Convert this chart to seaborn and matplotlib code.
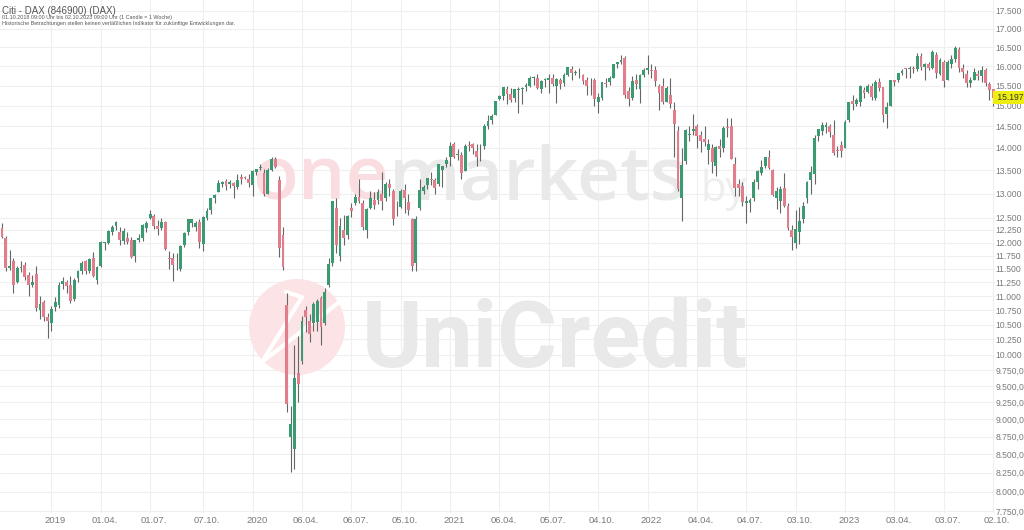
import numpy as np
import pandas as pd
import seaborn as sns
import matplotlib.pyplot as plt
import matplotlib.transforms as mtransforms
from matplotlib.patches import Circle
from matplotlib.ticker import NullLocator

# DAX weekly candles, 01.10.2018 - 02.10.2023 (1 candle = 1 week)
opens = [
    12280, 12100, 11520, 11650, 11250, 11520, 11580, 11380, 11200, 11400, 10750, 10900, 10640,
    10520, 10800, 10850, 11220, 11260, 11200, 10950, 11320, 11460, 11640, 11450, 11700, 11300,
    11560, 11990, 12000, 12200, 12320, 12200, 12040, 12100, 12050, 11740, 12050, 12100, 12290,
    12500, 12540, 12330, 12290, 12420, 11700, 11700, 11600, 11500, 11960, 12200, 12400, 12300,
    12420, 11980, 12500, 12650, 12910, 13040, 13200, 13260, 13200, 13230, 13130, 13350, 13340,
    13300, 13180, 13470, 13550, 13450, 13000, 13510, 13760, 13280, 12150, 10850, 8740, 8580,
    9700, 9900, 10760, 10560, 10520, 10550, 10960, 10530, 11200, 11600, 12700, 11750, 12250,
    12150, 12700, 12800, 12930, 12800, 12250, 12700, 12870, 12860, 13000, 12900, 13200, 13050,
    12700, 12720, 13080, 12820, 12480, 11600, 12700, 13050, 13180, 13300, 13290, 13200, 13500,
    13640, 13800, 14100, 13850, 13830, 13490, 14070, 14080, 13940, 13900, 14050, 14500, 14660,
    14770, 15170, 15230, 15400, 15290, 15200, 15380, 15420, 15450, 15500, 15690, 15700, 15400,
    15640, 15650, 15700, 15500, 15650, 15560, 15760, 15930, 15810, 15800, 15780, 15650, 15550,
    15650, 15080, 15200, 15560, 15600, 15700, 16050, 16100, 16200, 15350, 15200, 15650, 15400,
    15760, 15900, 15900, 15900, 15500, 15500, 15100, 15250, 14900, 14400, 12900, 13700, 14300,
    14400, 14500, 14300, 14200, 13950, 14000, 13600, 14050, 14000, 14480, 14500, 13650, 13200,
    13150, 12800, 12800, 12900, 13250, 13450, 13600, 13800, 13500, 12900, 12850, 13120, 12730,
    12250, 11990, 12210, 12480, 12910, 13290, 13430, 14280, 14400, 14480, 14510, 14310, 13950,
    14070, 13990, 14650, 15110, 15050, 15090, 15390, 15340, 15480, 15200, 15600, 15450, 14800,
    15000, 15630, 15650, 15810, 15950, 15920, 15960, 15930, 16250, 15980, 16050, 15950, 16300,
    15800, 16100, 15650, 16050, 16180, 16450, 15950, 15800, 15560, 15650, 15800, 15750, 15900,
    15540, 15400,
]
highs = [
    12390, 12130, 11850, 11700, 11560, 11650, 11620, 11440, 11380, 11560, 11010, 10930, 10700,
    10830, 10990, 11260, 11350, 11290, 11370, 11320, 11470, 11640, 11660, 11700, 11820, 11550,
    12040, 12010, 12250, 12350, 12440, 12300, 12290, 12200, 12120, 12060, 12170, 12380, 12440,
    12660, 12580, 12450, 12500, 12440, 11830, 11800, 11800, 11950, 12200, 12480, 12480, 12440,
    12470, 12540, 12700, 12910, 12990, 13290, 13260, 13300, 13280, 13250, 13430, 13420, 13380,
    13430, 13500, 13530, 13640, 13530, 13550, 13795, 13795, 13380, 12300, 11060, 9200, 10150,
    10300, 10650, 10820, 10680, 10900, 10950, 11000, 11150, 11700, 12850, 12900, 12500, 12560,
    12550, 12810, 13000, 13310, 12870, 12700, 13050, 13030, 13100, 13460, 13250, 13300, 13100,
    12850, 13100, 13200, 12980, 12500, 12530, 13300, 13180, 13340, 13460, 13340, 13640, 13600,
    13800, 14140, 14130, 13970, 13900, 14080, 14170, 14120, 14080, 14100, 14550, 14770, 14800,
    15120, 15270, 15470, 15500, 15430, 15420, 15470, 15470, 15570, 15730, 15730, 15800, 15650,
    15690, 15800, 15800, 15700, 15700, 15810, 15980, 15990, 15900, 15950, 15800, 15720, 15700,
    15700, 15300, 15600, 15700, 15730, 16060, 16100, 16290, 16250, 15450, 15750, 15800, 15800,
    15950, 16285, 16050, 16000, 15550, 15700, 15500, 15700, 15100, 14500, 14000, 14450, 14500,
    14800, 14550, 14400, 14520, 14200, 14100, 14050, 14200, 14500, 14700, 14700, 13800, 13300,
    13250, 12950, 12900, 13300, 13510, 13740, 13800, 13950, 13520, 13130, 13150, 13450, 12800,
    12350, 12650, 12710, 12820, 13270, 13600, 14300, 14450, 14600, 14600, 14550, 14650, 14050,
    14150, 14650, 15100, 15270, 15180, 15520, 15450, 15550, 15560, 15650, 15700, 15450, 15100,
    15650, 15650, 15830, 15920, 15960, 16000, 16000, 16330, 16330, 16070, 16100, 16430, 16370,
    16200, 16150, 16170, 16300, 16530, 16500, 16060, 15900, 15720, 15960, 15890, 15990, 15950,
    15600, 15420,
]
lows = [
    12090, 11460, 11470, 11050, 11240, 11440, 11290, 11010, 11170, 10730, 10600, 10560, 10279,
    10400, 10740, 10780, 11120, 11060, 10870, 10920, 11250, 11400, 11400, 11420, 11340, 11220,
    11540, 11850, 11980, 12150, 12250, 11950, 11980, 11970, 11710, 11620, 12020, 12030, 12210,
    12480, 12270, 12150, 12240, 11850, 11500, 11266, 11480, 11450, 11910, 12150, 12300, 12220,
    11900, 11830, 12450, 12580, 12800, 13040, 13140, 13080, 13120, 12900, 13090, 13200, 13300,
    13130, 12950, 13390, 13500, 12950, 12980, 13490, 13550, 11724, 11480, 9100, 8255, 8300,
    9260, 9850, 10380, 10200, 10400, 10400, 10160, 10500, 11170, 11550, 11800, 11650, 11950,
    12070, 12520, 12750, 12800, 12250, 12100, 12680, 12670, 12780, 12650, 12850, 12950, 12350,
    12540, 12700, 12600, 12550, 11450, 11450, 12650, 12990, 13100, 13180, 13000, 13170, 13140,
    13580, 13600, 13770, 13730, 13300, 13480, 13930, 13870, 13600, 13700, 13980, 14450, 14560,
    14770, 15130, 15150, 15050, 15090, 15100, 14820, 15040, 15350, 15450, 15510, 15420, 15300,
    15460, 15300, 15500, 15060, 15400, 15480, 15740, 15630, 15760, 15700, 15550, 15260, 15250,
    15000, 14818, 15150, 15450, 15520, 15700, 15950, 16050, 15200, 15000, 15150, 15400, 15060,
    15720, 15800, 15700, 15500, 14900, 15050, 15100, 14950, 13800, 13050, 12440, 13630, 14150,
    14300, 14000, 13900, 14050, 13650, 13450, 13380, 13800, 13900, 14250, 13750, 12950, 12950,
    12740, 12390, 12620, 12850, 13100, 13400, 13550, 13540, 12950, 12680, 12600, 12720, 12250,
    11863, 11900, 11975, 12400, 12800, 13000, 13200, 14150, 14300, 14350, 14250, 13830, 13800,
    13790, 13990, 14600, 14900, 15000, 15000, 15200, 15300, 15150, 15150, 15350, 14600, 14460,
    14980, 15500, 15600, 15780, 15700, 15700, 15820, 15880, 15900, 15630, 15900, 15920, 15700,
    15780, 15450, 15650, 15950, 16100, 15850, 15700, 15450, 15450, 15640, 15650, 15600, 15500,
    15140, 14980,
]
closes = [
    12111, 11523, 11554, 11201, 11519, 11529, 11341, 11193, 11257, 10788, 10866, 10634, 10559,
    10767, 10887, 11205, 11282, 11180, 10906, 11299, 11457, 11602, 11458, 11686, 11364, 11526,
    12010, 11999, 12222, 12315, 12413, 12060, 12239, 12011, 11727, 12045, 12096, 12340, 12399,
    12568, 12323, 12260, 12419, 11872, 11694, 11563, 11612, 11939, 12191, 12469, 12468, 12381,
    12013, 12512, 12634, 12895, 12961, 13229, 13242, 13164, 13236, 13167, 13283, 13319, 13337,
    13219, 13483, 13526, 13577, 12982, 13514, 13745, 13579, 11890, 11542, 9232, 8929, 9633,
    9525, 10565, 10626, 10336, 10861, 10904, 10465, 11074, 11587, 12848, 11949, 12331, 12089,
    12528, 12633, 12920, 12838, 12313, 12675, 12901, 12765, 13033, 12842, 13203, 13116, 12469,
    12689, 13051, 12909, 12646, 11556, 12480, 13077, 13137, 13336, 13299, 13114, 13630, 13587,
    13719, 14050, 13788, 13874, 13433, 14057, 14050, 13993, 13786, 13920, 14502, 14621, 14749,
    15107, 15234, 15460, 15280, 15136, 15400, 15417, 15438, 15520, 15693, 15693, 15448, 15608,
    15650, 15688, 15540, 15669, 15544, 15761, 15977, 15808, 15852, 15781, 15609, 15490, 15531,
    15156, 15206, 15587, 15543, 15688, 16054, 16094, 16160, 15257, 15169, 15623, 15532, 15756,
    15885, 15948, 15883, 15603, 15318, 15100, 15425, 15042, 14567, 13094, 13628, 14413, 14306,
    14446, 14284, 14164, 14142, 14098, 13675, 14027, 13982, 14462, 14460, 13762, 13127, 13118,
    12813, 12833, 12865, 13254, 13484, 13573, 13795, 13544, 12971, 13050, 13088, 12741, 12284,
    12114, 12273, 12438, 12731, 13253, 13460, 14224, 14431, 14541, 14529, 14371, 13893, 13940,
    13924, 14610, 15087, 15033, 15150, 15476, 15308, 15482, 15210, 15578, 15428, 14768, 14957,
    15629, 15598, 15808, 15882, 15922, 15961, 15914, 16275, 15983, 16051, 15950, 16358, 15830,
    16148, 15603, 16105, 16177, 16469, 15952, 15832, 15574, 15632, 15840, 15740, 15894, 15557,
    15387, 15197,
]

# x labels sit on the week index of the candle
x_tick_weeks = [13, 26, 39, 53, 66, 79, 92, 105, 118, 131, 144, 157, 170, 183, 196, 209, 222, 235, 248, 261]
x_tick_labels = ['2019', '01.04.', '01.07.', '07.10.', '2020', '06.04.', '06.07.', '05.10.', '2021', '06.04.',
                 '05.07.', '04.10.', '2022', '04.04.', '04.07.', '03.10.', '2023', '03.04.', '03.07.', '02.10.']
y_ticks = [17500, 17000, 16500, 16000, 15500, 15000, 14500, 14000, 13500, 13000, 12500, 12250, 12000,
           11750, 11500, 11250, 11000, 10750, 10500, 10250, 10000, 9750, 9500, 9250, 9000, 8750, 8500,
           8250, 8000, 7750]
y_tick_labels = ['17.500', '17.000', '16.500', '16.000', '15.500', '15.000', '14.500', '14.000', '13.500',
                 '13.000', '12.500', '12.250', '12.000', '11.750', '11.500', '11.250', '11.000', '10.750',
                 '10.500', '10.250', '10.000', '9.750,0', '9.500,0', '9.250,0', '9.000,0', '8.750,0',
                 '8.500,0', '8.250,0', '8.000,0', '7.750,0']
last_price = 15197
last_label = '15.197'

df = pd.DataFrame({'open': opens, 'high': highs, 'low': lows, 'close': closes})
df['week'] = np.arange(len(df))
df['up'] = df['close'] >= df['open']

sns.set_theme(style='white')
plt.rcParams['font.family'] = ['Liberation Sans', 'DejaVu Sans']

GREEN = '#3a9a72'
RED = '#e27d8b'
GREY = '#7a7a7a'

fig = plt.figure(figsize=(10.24, 5.30), dpi=100)
ax = fig.add_axes([0, 17 / 530, 995 / 1024, 513 / 530])
ax.set_yscale('log')


def px(x, y):
    # pixel position in the 1024x530 picture -> inches for dpi_scale_trans
    return (x / 100, (530 - y) / 100)


# watermark (behind the candles)
tr = fig.dpi_scale_trans
t_one = ax.text(*px(252, 199), 'one', transform=tr, fontsize=54, family='Open Sans',
                weight='semibold', color='#fadde0', zorder=1)
fig.canvas.draw()
bb = t_one.get_window_extent(fig.canvas.get_renderer())
ax.text(bb.x1 / 100, (530 - 199) / 100, 'markets', transform=tr, fontsize=54, family='Open Sans',
        weight='semibold', color='#e9e9e9', zorder=1)
ax.text(*px(701, 201), 'by', transform=tr, fontsize=30, family='Open Sans', color='#eeeeee', zorder=1)
ax.add_patch(Circle(px(297, 327), 0.48, transform=tr, facecolor='#fce3e6', edgecolor='none', zorder=1))
sx, sy = zip(*[px(286, 292), px(302, 297), px(262, 362), px(342, 300)])
ax.plot(sx, sy, transform=tr, color='white', lw=3, solid_capstyle='round', zorder=1.1)
ax.text(*px(362, 367), 'UniCredit', transform=tr, fontsize=66, family='Roboto', weight='bold',
        color='#e9e9e9', zorder=1)

# candles
body_low = np.minimum(df['open'], df['close'])
body_h = np.maximum(np.abs(df['close'] - df['open']), df['close'] * 0.0012)
colors = np.where(df['up'], GREEN, RED)
ax.vlines(df['week'], df['low'], df['high'], color='#666666', lw=0.8, zorder=2)
ax.bar(df['week'], body_h, bottom=body_low, width=0.75, color=colors, linewidth=0, zorder=3)

# axes
ax.set_xlim(-0.53, 261.5)
ax.set_ylim(7726, 17816)
ax.yaxis.tick_right()
ax.set_yticks(y_ticks)
ax.set_yticklabels(y_tick_labels)
ax.yaxis.set_minor_locator(NullLocator())
ax.set_xticks(x_tick_weeks)
ax.set_xticklabels(x_tick_labels)
ax.tick_params(axis='y', length=0, pad=0.4, labelsize=6.2, labelcolor=GREY)
ax.tick_params(axis='x', length=0, pad=2.5, labelsize=6.8, labelcolor=GREY)
shift = mtransforms.ScaledTranslation(0.04, 0, fig.dpi_scale_trans)
for lbl in ax.get_xticklabels():
    lbl.set_transform(lbl.get_transform() + shift)
ax.grid(True, color='#efefef', lw=0.8)
ax.set_axisbelow(True)
for s in ax.spines.values():
    s.set_visible(False)

# last price marker
ax.text(1.0, last_price, ' ' + last_label, transform=ax.get_yaxis_transform(), ha='left', va='center',
        fontsize=6.2, color='#333333', clip_on=False, zorder=5,
        bbox=dict(facecolor='#eeee11', edgecolor='none', pad=1.2))

# header
fig.text(2 / 1024, 1 - 14 / 530, 'Citi - DAX (846900) (DAX)', fontsize=7, color='#555555', va='baseline')
fig.text(2 / 1024, 1 - 18.5 / 530, '01.10.2018 09:00 Uhr bis 02.10.2023 09:00 Uhr (1 Candle = 1 Woche)',
         fontsize=3.9, color='#555555', va='baseline')
fig.text(2 / 1024, 1 - 24.5 / 530,
         'Historische Betrachtungen stellen keinen verläßlichen Indikator für zukünftige Entwicklungen dar.',
         fontsize=3.9, color='#555555', va='baseline')

fig.savefig('out.png', dpi=100, facecolor='white')
